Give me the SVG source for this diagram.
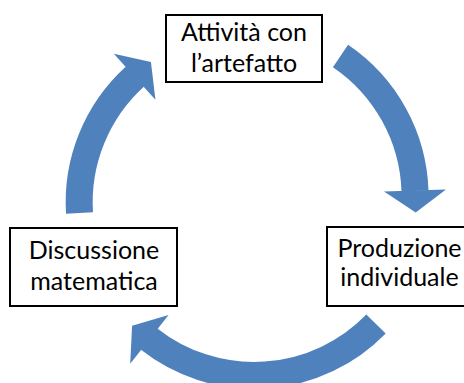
<svg xmlns="http://www.w3.org/2000/svg" width="464" height="383" viewBox="0 0 464 383">
  <style>
    .box { fill: #ffffff; stroke: #000000; stroke-width: 2; }
    .lbl { font-family: Lato, "Open Sans", "Liberation Sans", sans-serif; font-size: 25px; fill: #000000; text-anchor: middle; }
    .arc { fill: none; stroke: #4F81BD; stroke-width: 27; stroke-linecap: butt; }
  </style>
  <defs>
    <marker id="ah" markerUnits="userSpaceOnUse" markerWidth="24" markerHeight="64" refX="0.5" refY="31" orient="auto" overflow="visible">
      <path d="M0,0 L22,31 L0,62 Z" fill="#4F81BD"/>
    </marker>
  </defs>
  <rect width="464" height="383" fill="#ffffff"/>
  <g id="connectors">
    <path id="arrow-top-right" class="arc" d="M340.5,56 A170,170 0 0 1 415,191" marker-end="url(#ah)"/>
    <path id="arrow-bottom" class="arc" d="M376,324 A170,170 0 0 1 149,339" marker-end="url(#ah)"/>
    <path id="arrow-left" class="arc" d="M79.5,213 A170,170 0 0 1 135,76.5" marker-end="url(#ah)"/>
  </g>
  <g id="node-attivita">
    <rect class="box" x="166" y="15" width="156" height="67"/>
    <text class="lbl" x="244" y="40.5">Attività con</text>
    <text class="lbl" x="244" y="72">l’artefatto</text>
  </g>
  <g id="node-produzione">
    <rect class="box" x="327" y="227" width="150" height="79"/>
    <text class="lbl" x="399.5" y="257">Produzione</text>
    <text class="lbl" x="399.5" y="286">individuale</text>
  </g>
  <g id="node-discussione">
    <rect class="box" x="10" y="228" width="167" height="78"/>
    <text class="lbl" x="94" y="259">Discussione</text>
    <text class="lbl" x="94" y="290">matematica</text>
  </g>
</svg>
